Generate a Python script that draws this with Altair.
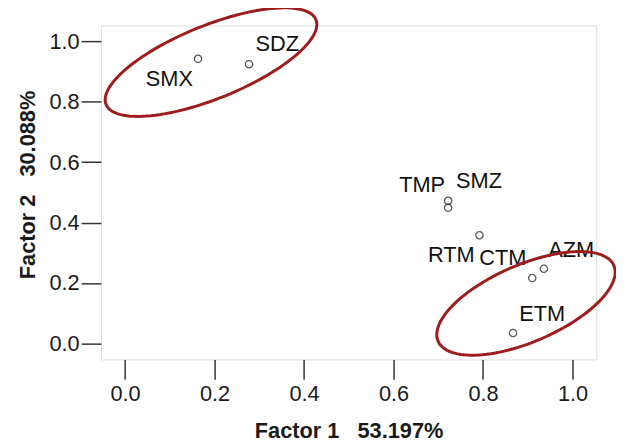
import altair as alt
import pandas as pd
import numpy as np

# --- data ---
names = ["SMX", "SDZ", "TMP", "SMZ", "RTM", "CTM", "AZM", "ETM"]
factor1 = [0.163, 0.277, 0.722, 0.722, 0.792, 0.910, 0.936, 0.867]
factor2 = [0.943, 0.925, 0.449, 0.472, 0.358, 0.216, 0.247, 0.034]
# label anchor positions (data units)
label_x = [0.099, 0.340, 0.664, 0.791, 0.729, 0.844, 0.997, 0.932]
label_y = [0.877, 0.992, 0.525, 0.539, 0.293, 0.282, 0.309, 0.096]

x_ticks = [0.0, 0.2, 0.4, 0.6, 0.8, 1.0]
y_ticks = [0.0, 0.2, 0.4, 0.6, 0.8, 1.0]
x_title = "Factor 1\u00a0\u00a0\u00a053.197%"
y_title = "Factor 2\u00a0\u00a0\u00a030.088%"

# grouping ellipses: centre (data units), semi-axes (px), tilt (deg)
ell_cx = [0.192, 0.896]
ell_cy = [0.932, 0.132]
ell_a = [114.5, 96.8]
ell_b = [37.0, 39.0]
ell_deg = [22.0, 23.3]

W, H = 501, 338
XD = [-0.054, 1.053]
YD = [-0.054, 1.054]
px_x = W / (XD[1] - XD[0])
px_y = H / (YD[1] - YD[0])

pts = pd.DataFrame({"name": names, "f1": factor1, "f2": factor2,
                    "lx": label_x, "ly": label_y})

rows = []
t = np.linspace(0, 2 * np.pi, 121)
for k in range(len(ell_cx)):
    th = np.deg2rad(ell_deg[k])
    dx = ell_a[k] * np.cos(t) * np.cos(th) - ell_b[k] * np.sin(t) * np.sin(th)
    dy = ell_a[k] * np.cos(t) * np.sin(th) + ell_b[k] * np.sin(t) * np.cos(th)
    for i in range(len(t)):
        rows.append({"g": k, "i": i,
                     "ex": ell_cx[k] + dx[i] / px_x,
                     "ey": ell_cy[k] + dy[i] / px_y})
ell = pd.DataFrame(rows)

FONT = "Liberation Sans"

xscale = alt.Scale(domain=XD, nice=False, zero=False)
yscale = alt.Scale(domain=YD, nice=False, zero=False)

xaxis = alt.Axis(values=x_ticks, format=".1f", title=x_title, domain=False,
                 grid=False, tickSize=20, tickColor="#333", tickWidth=1.5,
                 labelFont=FONT, labelFontSize=22, labelColor="#1a1a1a",
                 labelPadding=5, titleFont=FONT, titleFontSize=22,
                 titleFontWeight="bold", titleColor="#1a1a1a",
                 titleY=72, titleBaseline="middle")
yaxis = alt.Axis(values=y_ticks, format=".1f", title=y_title, domain=False,
                 grid=False, tickSize=20, tickColor="#333", tickWidth=1.5,
                 labelFont=FONT, labelFontSize=22, labelColor="#1a1a1a",
                 labelPadding=2, titleFont=FONT, titleFontSize=22,
                 titleFontWeight="bold", titleColor="#1a1a1a",
                 titleX=-74, titleY=H / 2 - 8, titleAngle=-90,
                 titleBaseline="middle", titleAlign="center")

points = alt.Chart(pts).mark_point(
    shape="circle", filled=False, size=55, color="#111", strokeWidth=1.3
).encode(
    x=alt.X("f1:Q", scale=xscale, axis=xaxis),
    y=alt.Y("f2:Q", scale=yscale, axis=yaxis),
)

labels = alt.Chart(pts).mark_text(
    font=FONT, fontSize=22, color="#111", align="center", baseline="middle"
).encode(
    x=alt.X("lx:Q", scale=xscale),
    y=alt.Y("ly:Q", scale=yscale),
    text="name:N",
)

ellipses = alt.Chart(ell).mark_line(
    color="#9e1c1c", strokeWidth=3, clip=False
).encode(
    x=alt.X("ex:Q", scale=xscale),
    y=alt.Y("ey:Q", scale=yscale),
    detail="g:N",
    order="i:Q",
)

chart = alt.layer(points, labels, ellipses).properties(
    width=W, height=H,
    autosize=alt.AutoSizeParams(type="none"),
    padding={"left": 94, "top": 15, "right": 20, "bottom": 85},
).configure_view(stroke="#666", strokeWidth=1.5).configure(background="white")

chart.save("out.html", embed_options={"renderer": "svg", "actions": False})
